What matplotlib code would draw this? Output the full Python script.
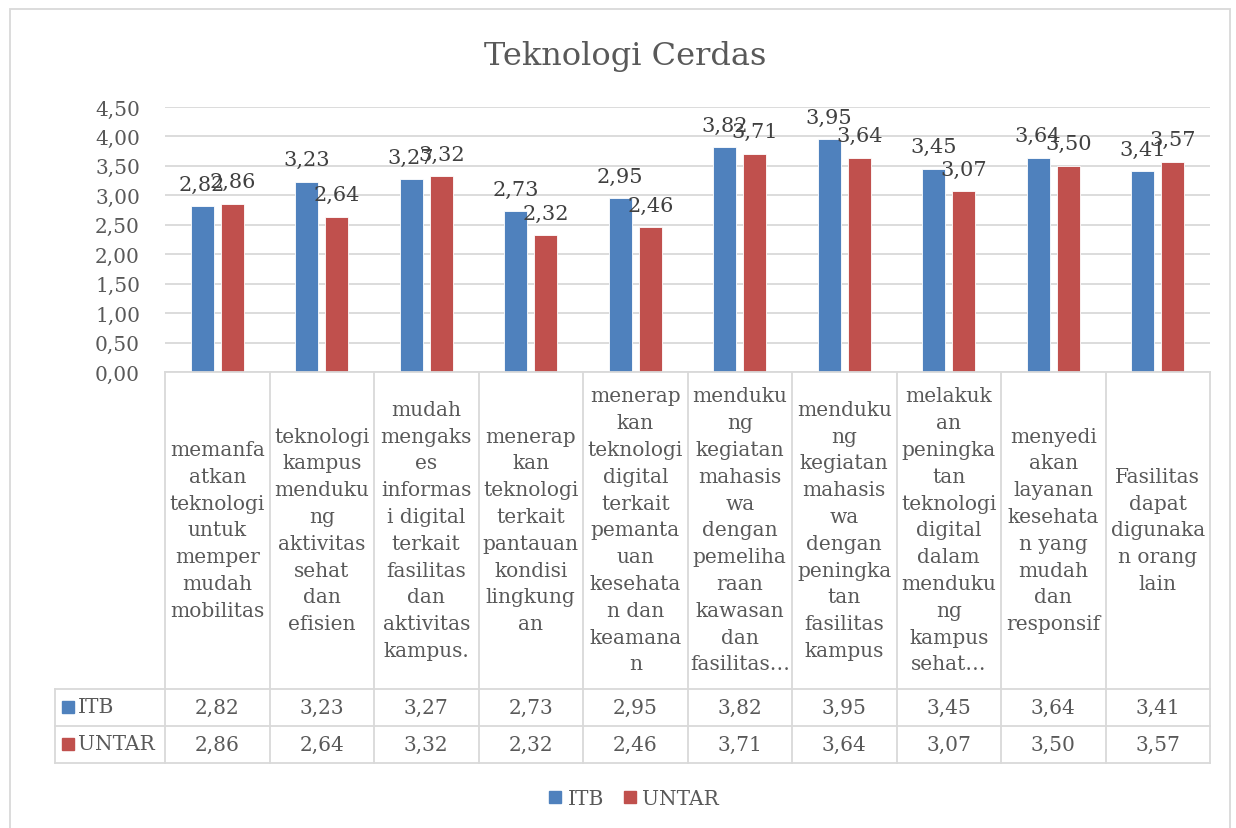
import numpy as np
import matplotlib.pyplot as plt
from matplotlib.patches import Rectangle
from matplotlib.lines import Line2D

categories = [
    "memanfa\natkan\nteknologi\nuntuk\nmemper\nmudah\nmobilitas",
    "teknologi\nkampus\nmenduku\nng\naktivitas\nsehat\ndan\nefisien",
    "mudah\nmengaks\nes\ninformas\ni digital\nterkait\nfasilitas\ndan\naktivitas\nkampus.",
    "menerap\nkan\nteknologi\nterkait\npantauan\nkondisi\nlingkung\nan",
    "menerap\nkan\nteknologi\ndigital\nterkait\npemanta\nuan\nkesehata\nn dan\nkeamana\nn",
    "menduku\nng\nkegiatan\nmahasis\nwa\ndengan\npemeliha\nraan\nkawasan\ndan\nfasilitas…",
    "menduku\nng\nkegiatan\nmahasis\nwa\ndengan\npeningka\ntan\nfasilitas\nkampus",
    "melakuk\nan\npeningka\ntan\nteknologi\ndigital\ndalam\nmenduku\nng\nkampus\nsehat…",
    "menyedi\nakan\nlayanan\nkesehata\nn yang\nmudah\ndan\nresponsif",
    "Fasilitas\ndapat\ndigunaka\nn orang\nlain",
]
itb = [2.82, 3.23, 3.27, 2.73, 2.95, 3.82, 3.95, 3.45, 3.64, 3.41]
untar = [2.86, 2.64, 3.32, 2.32, 2.46, 3.71, 3.64, 3.07, 3.50, 3.57]
series_names = ["ITB", "UNTAR"]
yticks = np.arange(0, 4.51, 0.5)

BLUE = "#4F81BD"
RED = "#C0504D"
TXT = "#595959"
LBL = "#404040"
GRID = "#D9D9D9"

plt.rcParams["font.family"] = ["DejaVu Serif"]

W, H = 1236, 829
fig = plt.figure(figsize=(W / 100, H / 100), dpi=100)


def px(x0, y0, x1, y1):
    # pixel box (top-left origin) -> figure rect
    return [x0 / W, 1 - y1 / H, (x1 - x0) / W, (y1 - y0) / H]


def fmt(v):
    return f"{v:.2f}".replace(".", ",")


# outer chart border
fig.patches.append(Rectangle((10 / W, -0.01), 1220 / W, 1 - 10 / H + 0.01,
                             transform=fig.transFigure, fill=False,
                             edgecolor=GRID, lw=1.3))

fig.text(625 / W, 1 - 56 / H, "Teknologi Cerdas", ha="center", va="center",
         fontsize=23, color=TXT)

# bars
ax = fig.add_axes(px(165, 108, 1210, 373))
x = np.arange(len(categories))
bw = 0.22
off = 0.145
b1 = ax.bar(x - off, itb, bw, color=BLUE, edgecolor="white", lw=0.6, label=series_names[0])
b2 = ax.bar(x + off, untar, bw, color=RED, edgecolor="white", lw=0.6, label=series_names[1])
for bars, vals in ((b1, itb), (b2, untar)):
    for b, v in zip(bars, vals):
        ax.annotate(fmt(v), (b.get_x() + b.get_width() / 2, v), xytext=(0, 9),
                    textcoords="offset points", ha="center", va="bottom",
                    fontsize=15, color=LBL)

ax.set_xlim(-0.5, len(categories) - 0.5)
ax.set_ylim(0, 4.5)
ax.set_yticks(yticks)
ax.set_yticklabels([fmt(t) for t in yticks])
ax.set_xticks([])
ax.tick_params(axis="y", length=0, pad=18, labelsize=14.5, labelcolor=TXT)
ax.yaxis.grid(True, color=GRID, lw=1.3)
ax.set_axisbelow(True)
for s in ax.spines.values():
    s.set_visible(False)

# data table
col_w = (1210 - 165) / len(categories)
left = -0.5 - (165 - 55) / col_w
tx = fig.add_axes(px(55, 373, 1210, 764))
tx.set_xlim(left, len(categories) - 0.5)
tx.set_ylim(764, 373)
tx.axis("off")
n = len(categories)
for i in range(n + 1):
    tx.plot([i - 0.5, i - 0.5], [373, 764], color=GRID, lw=1.3, clip_on=False)
tx.plot([left, left], [690, 764], color=GRID, lw=1.3, clip_on=False)
tx.plot([-0.5, n - 0.5], [373, 373], color=GRID, lw=1.3, clip_on=False)
for yy in (690, 727, 764):
    tx.plot([left, n - 0.5], [yy, yy], color=GRID, lw=1.3, clip_on=False)

for i, c in enumerate(categories):
    tx.text(i, 531, c, ha="center", va="center", fontsize=14.5, color=TXT,
            linespacing=1.52)

for row_y, name, col, vals in ((708, series_names[0], BLUE, itb),
                               (745, series_names[1], RED, untar)):
    tx.plot([left + 0.125], [row_y], marker="s", ms=8.5, color=col, clip_on=False)
    tx.text(left + 0.22, row_y, name, ha="left", va="center", fontsize=14.5, color=TXT)
    for i, v in enumerate(vals):
        tx.text(i, row_y, fmt(v), ha="center", va="center", fontsize=14.5, color=TXT)

handles = [Line2D([], [], marker="s", ls="", ms=9, color=BLUE),
           Line2D([], [], marker="s", ls="", ms=9, color=RED)]
fig.legend(handles, series_names, loc="center", bbox_to_anchor=(632 / W, 1 - 800 / H),
           ncol=2, frameon=False, fontsize=14.5, labelcolor=TXT, handletextpad=0.1,
           columnspacing=0.8, handlelength=1.0)

fig.savefig("out.png", dpi=100)
